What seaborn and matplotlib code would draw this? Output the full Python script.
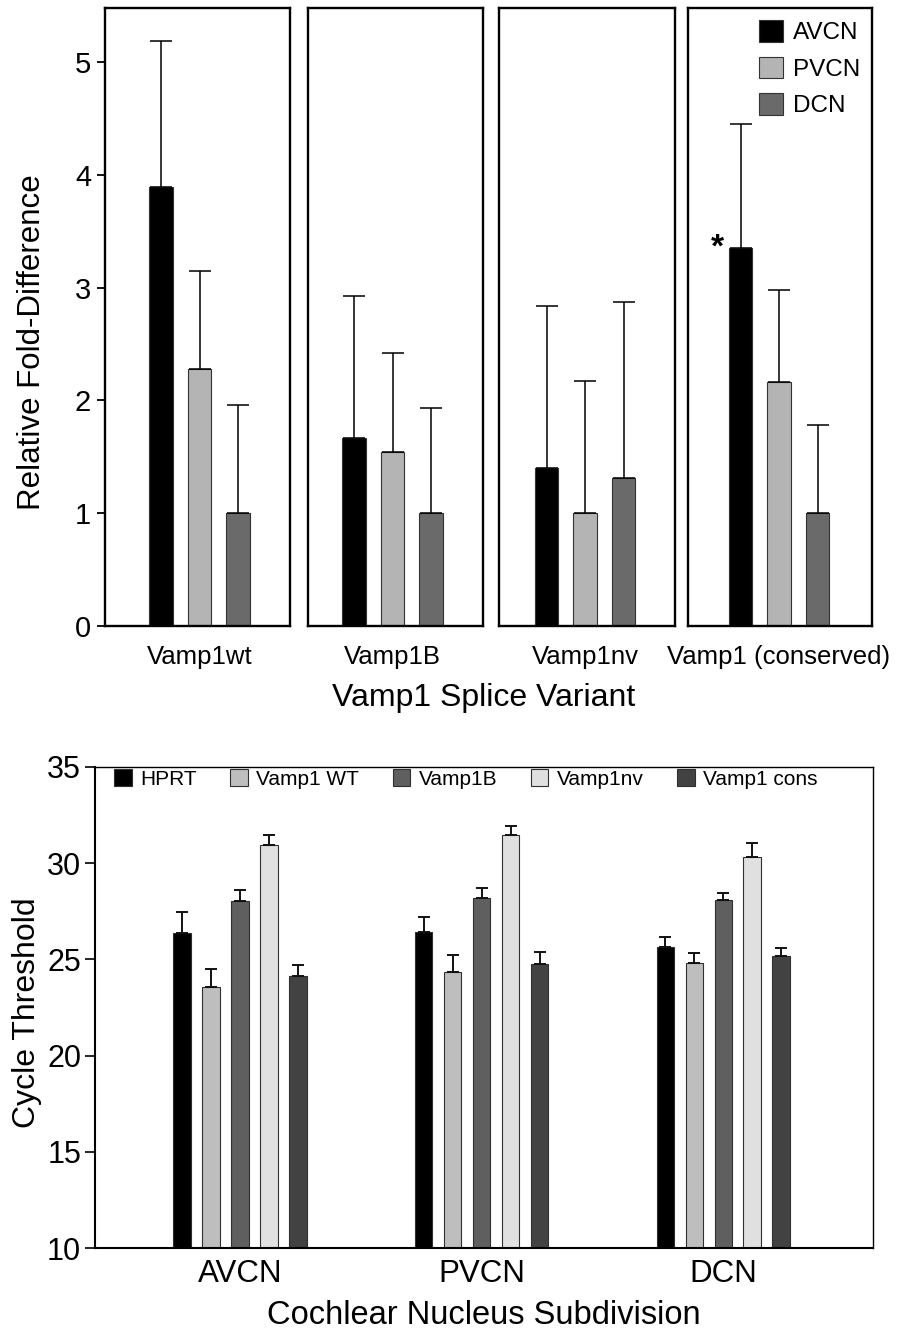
import numpy as np
import pandas as pd
import matplotlib
matplotlib.use('Agg')
import matplotlib.pyplot as plt
import seaborn as sns

# 上图: Vamp1 剪接变体的相对倍数差异
variants = ['Vamp1wt', 'Vamp1B', 'Vamp1nv', 'Vamp1 (conserved)']
tissues = ['AVCN', 'PVCN', 'DCN']
fold_avcn = [3.89, 1.67, 1.40, 3.35]
fold_pvcn = [2.28, 1.54, 1.00, 2.16]
fold_dcn = [1.00, 1.00, 1.31, 1.00]
err_avcn = [1.30, 1.26, 1.44, 1.10]
err_pvcn = [0.87, 0.88, 1.17, 0.82]
err_dcn = [0.96, 0.93, 1.56, 0.78]
tissue_colors = ['#000000', '#b4b4b4', '#6a6a6a']

# 下图: 循环阈值
regions = ['AVCN', 'PVCN', 'DCN']
genes = ['HPRT', 'Vamp1 WT', 'Vamp1B', 'Vamp1nv', 'Vamp1 cons']
ct_hprt = [26.36, 26.40, 25.65]
ct_wt = [23.57, 24.35, 24.81]
ct_b = [28.05, 28.17, 28.07]
ct_nv = [30.95, 31.45, 30.31]
ct_cons = [24.14, 24.76, 25.16]
ct_err_hprt = [1.09, 0.78, 0.49]
ct_err_wt = [0.91, 0.88, 0.52]
ct_err_b = [0.54, 0.52, 0.36]
ct_err_nv = [0.52, 0.47, 0.73]
ct_err_cons = [0.55, 0.64, 0.44]
gene_colors = ['#000000', '#bebebe', '#5f5f5f', '#e0e0e0', '#424242']

sns.set_style('ticks')
plt.rcParams['font.family'] = ['Liberation Sans', 'DejaVu Sans']
for k in ['text.color', 'axes.labelcolor', 'xtick.color', 'ytick.color', 'axes.edgecolor']:
    plt.rcParams[k] = 'black'

W, H = 911, 1332
fig = plt.figure(figsize=(W / 100, H / 100), dpi=100)

# 每个面板的像素边界 (左, 右)
panel_px = [(105, 290), (308, 483), (499, 675), (688, 872)]
px_per_unit = 38.5
centers_px = [199.5, 392.5, 585, 779]
top_px, bot_px = 8, 626

fold_all = np.array([fold_avcn, fold_pvcn, fold_dcn])
err_all = np.array([err_avcn, err_pvcn, err_dcn])

for i, var in enumerate(variants):
    l, r = panel_px[i]
    ax = fig.add_axes([l / W, 1 - bot_px / H, (r - l) / W, (bot_px - top_px) / H])
    df = pd.DataFrame({'tissue': tissues, 'fold': fold_all[:, i]})
    sns.barplot(data=df, x='tissue', y='fold', hue='tissue', palette=tissue_colors,
                width=0.62, errorbar=None, edgecolor='#333333', linewidth=0.8,
                legend=(i == 3), ax=ax)
    xs = [p.get_x() + p.get_width() / 2 for p in ax.patches[:3]]
    ax.errorbar(xs, fold_all[:, i], yerr=[np.zeros(3), err_all[:, i]], fmt='none',
                ecolor='black', elinewidth=1.1, capsize=8, capthick=1.1)
    c = centers_px[i]
    ax.set_xlim(1 + (l - c) / px_per_unit, 1 + (r - c) / px_per_unit)
    ax.set_ylim(0, 5.48)
    ax.set_xticks([1])
    ax.set_xticklabels([var], fontsize=18.5)
    ax.tick_params(axis='x', length=0, pad=14)
    ax.set_xlabel('')
    for s in ax.spines.values():
        s.set_linewidth(1.7)
        s.set_color('black')
    if i == 0:
        ax.set_yticks([0, 1, 2, 3, 4, 5])
        ax.tick_params(axis='y', labelsize=21, length=6, width=1.3, pad=4)
        ax.set_ylabel('Relative Fold-Difference', fontsize=22.5)
        ax.yaxis.set_label_coords(-0.315, 0.46)
    else:
        ax.set_yticks([])
        ax.set_ylabel('')
    if i == 3:
        ax.text(xs[0] - 0.42, fold_all[0, i] + 0.14, '*', fontsize=24, fontweight='bold',
                ha='right', va='top')
        sns.move_legend(ax, 'upper right', title=None, frameon=False, fontsize=17.5,
                        handlelength=1.0, handleheight=1.0, handletextpad=0.4,
                        labelspacing=0.5, borderaxespad=0.2, borderpad=0.3)

fig.text(484 / W, 1 - 698 / H, 'Vamp1 Splice Variant', fontsize=23, ha='center', va='center')

# 下图
bl, br, bt, bb = 95, 873, 767, 1248
ax2 = fig.add_axes([bl / W, 1 - bb / H, (br - bl) / W, (bb - bt) / H])
ct_all = [ct_hprt, ct_wt, ct_b, ct_nv, ct_cons]
ct_err = [ct_err_hprt, ct_err_wt, ct_err_b, ct_err_nv, ct_err_cons]
rows = []
for g, vals in zip(genes, ct_all):
    for reg, v in zip(regions, vals):
        rows.append({'region': reg, 'gene': g, 'ct': v})
df2 = pd.DataFrame(rows)
sns.barplot(data=df2, x='region', y='ct', hue='gene', hue_order=genes, order=regions,
            palette=gene_colors, width=0.6, gap=0.4, errorbar=None,
            edgecolor='#303030', linewidth=0.8, ax=ax2)
for cont, vals, errs in zip(ax2.containers, ct_all, ct_err):
    xs = [b.get_x() + b.get_width() / 2 for b in cont]
    ax2.errorbar(xs, vals, yerr=[np.zeros(3), errs], fmt='none', ecolor='#111111',
                 elinewidth=1.4, capsize=4, capthick=1.4)
ax2.set_ylim(10, 35)
ax2.set_xlim(-0.60, 2.62)
ax2.set_yticks([10, 15, 20, 25, 30, 35])
ax2.tick_params(axis='y', labelsize=22, length=7, width=1.2, pad=3)
ax2.tick_params(axis='x', labelsize=22.5, length=0, pad=8)
ax2.set_ylabel('Cycle Threshold', fontsize=23)
ax2.yaxis.set_label_coords(-0.068, 0.49)
ax2.set_xlabel('Cochlear Nucleus Subdivision', fontsize=23.5, labelpad=8)
ax2.spines['left'].set_linewidth(1.5)
ax2.spines['bottom'].set_linewidth(1.5)
ax2.spines['top'].set_linewidth(1.0)
ax2.spines['right'].set_linewidth(1.0)
sns.move_legend(ax2, 'upper left', bbox_to_anchor=(0.025, 0.995), ncol=5, title=None,
                frameon=False, fontsize=15, handlelength=0.85, handleheight=0.85,
                handletextpad=0.4, columnspacing=1.6, borderpad=0, borderaxespad=0)

fig.savefig('out.png', dpi=100)
